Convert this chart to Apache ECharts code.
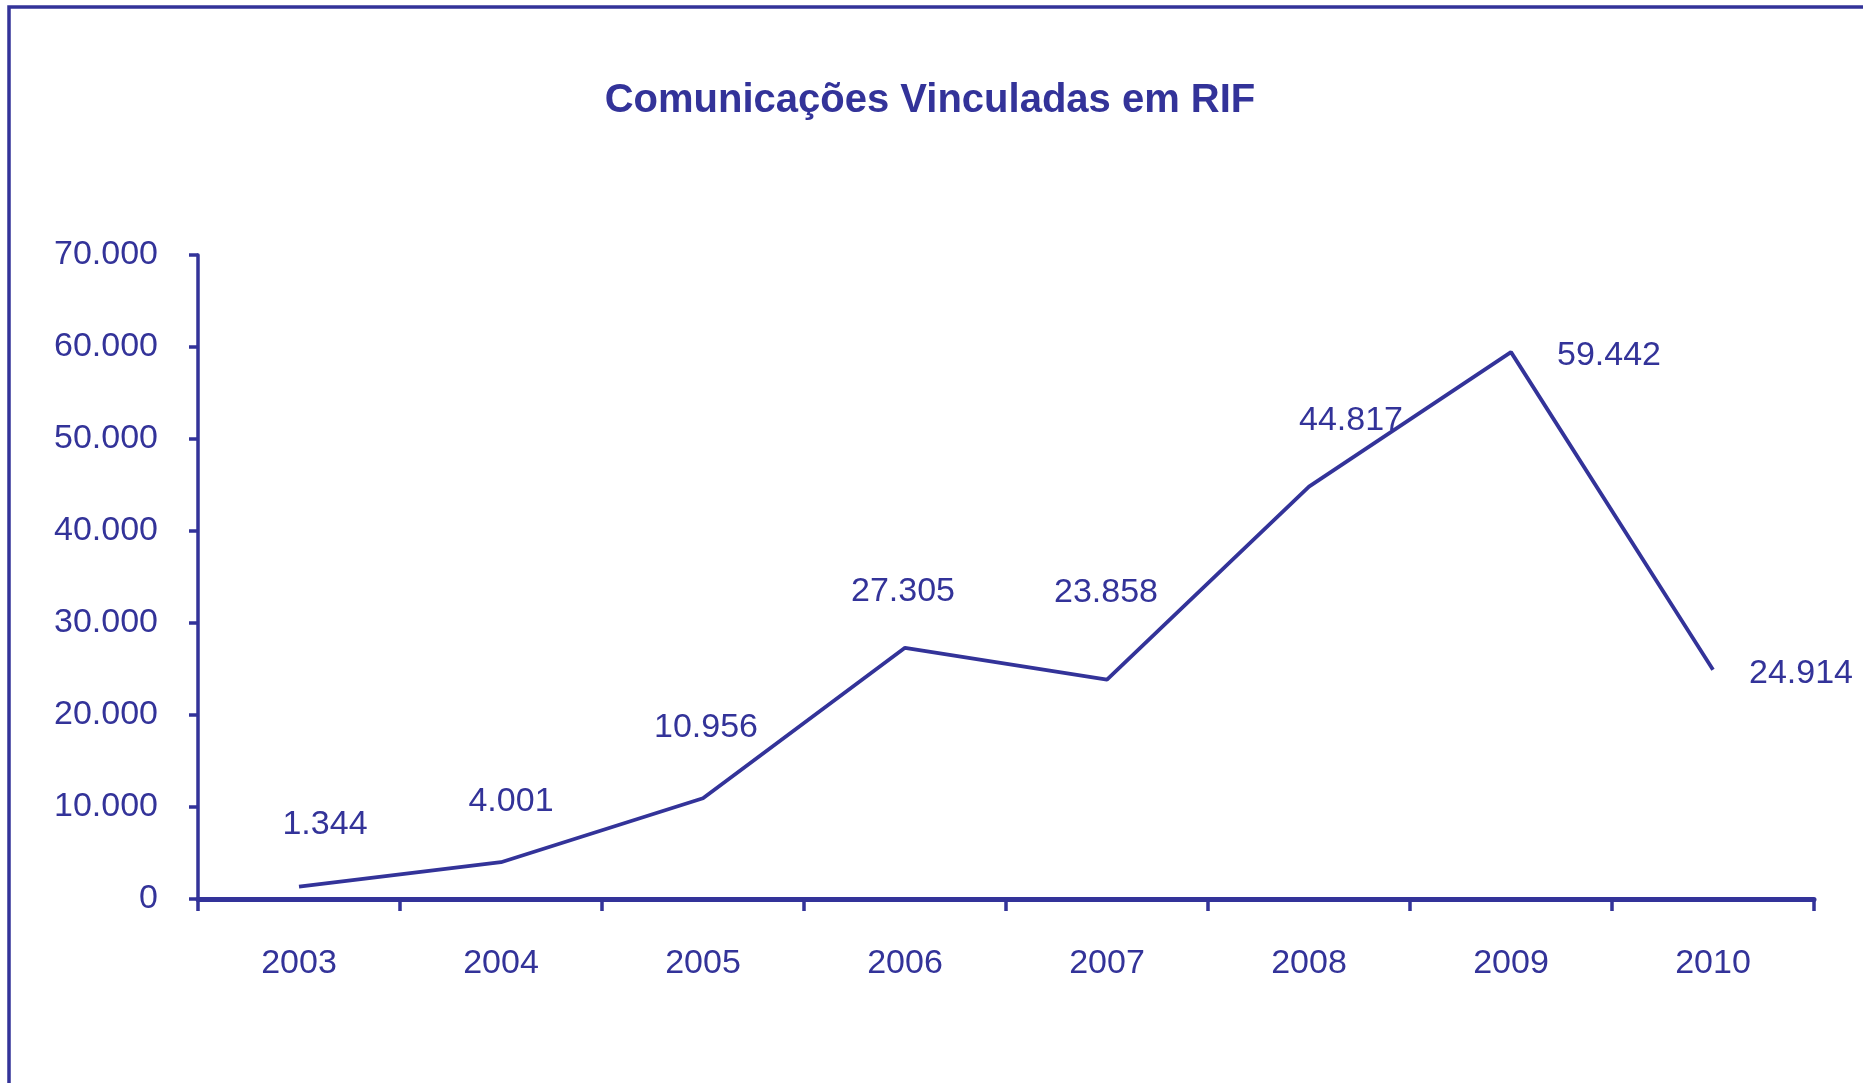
<!DOCTYPE html>
<html>
<head>
<meta charset="utf-8">
<script src="https://cdn.jsdelivr.net/npm/echarts@6/dist/echarts.min.js"></script>
<style>
    html, body { margin: 0; padding: 0; background: #fff; }
    #chartBox { width: 1863px; height: 1083px; }
</style>
</head>
<body>
<div id="chartBox"></div>
<script>
// dados
const years = ['2003', '2004', '2005', '2006', '2007', '2008', '2009', '2010']
const comunicacoes = [1344, 4001, 10956, 27305, 23858, 44817, 59442, 24914]
const yTicks = [0, 10000, 20000, 30000, 40000, 50000, 60000, 70000]

// deslocamento dos rótulos (estilo)
const labelOffsets = [[26, -62], [10, -61], [3, -71], [-2, -56], [-1, -87], [42, -66], [98, 3], [88, 4]]

const navy = '#333399'
const font = 'Liberation Sans, Arial, sans-serif'

// 70000 -> 70.000
const fmt = (v) => String(v).replace(/\B(?=(\d{3})+(?!\d))/g, '.')

const chart = echarts.init(document.getElementById('chartBox'))
const option = {
    animation: false,
    backgroundColor: '#fff',
    title: {
        text: 'Comunicações Vinculadas em RIF',
        left: 925,
        textAlign: 'center',
        top: 76,
        textStyle: { color: navy, fontSize: 40, fontWeight: 'bold', fontFamily: font }
    },
    graphic: [
        {
            type: 'rect',
            shape: { x: 9, y: 7, width: 1900, height: 1200 },
            style: { fill: 'none', stroke: navy, lineWidth: 3.5 }
        }
    ],
    grid: { left: 198, right: 49, top: 255, bottom: 184 },
    xAxis: {
        type: 'category',
        data: years,
        boundaryGap: true,
        axisLine: { lineStyle: { color: navy, width: 5 } },
        axisTick: { show: true, length: 12, lineStyle: { color: navy, width: 3.5 } },
        axisLabel: { color: navy, fontSize: 34, fontFamily: font, margin: 48 }
    },
    yAxis: {
        type: 'value',
        min: yTicks[0],
        max: yTicks[yTicks.length - 1],
        interval: yTicks[1] - yTicks[0],
        axisLine: { show: true, lineStyle: { color: navy, width: 3.5 } },
        axisTick: { show: true, length: 9, lineStyle: { color: navy, width: 3.5 } },
        splitLine: { show: false },
        axisLabel: { color: navy, fontSize: 34, fontFamily: font, margin: 40, formatter: fmt }
    },
    series: [
        {
            name: 'Comunicações',
            type: 'line',
            data: comunicacoes,
            symbol: 'circle',
            symbolSize: 1,
            showSymbol: true,
            showAllSymbol: true,
            itemStyle: { color: 'rgba(0,0,0,0)' },
            lineStyle: { color: navy, width: 3.8 },
            labelLayout: (p) => ({
                dx: labelOffsets[p.dataIndex][0],
                dy: labelOffsets[p.dataIndex][1],
                hideOverlap: false
            }),
            label: {
                show: true,
                position: 'inside',
                color: navy,
                fontSize: 34,
                fontFamily: font,
                formatter: (p) => fmt(p.value)
            }
        }
    ]
}
chart.setOption(option)
</script>
</body>
</html>
